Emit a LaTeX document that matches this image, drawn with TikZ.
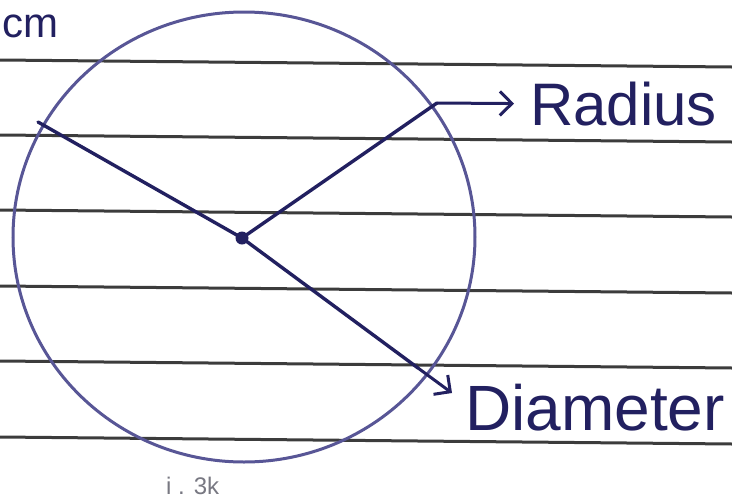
\documentclass[tikz,border=0pt]{standalone}
\usepackage{fontspec}
\setmainfont{Liberation Sans}
\usetikzlibrary{arrows.meta,positioning}
\definecolor{ink}{RGB}{34,32,96}
\definecolor{pen}{RGB}{88,86,150}
\definecolor{paperline}{RGB}{60,60,60}
\definecolor{smudge}{RGB}{120,120,130}

\begin{document}
\begin{tikzpicture}[x=1pt, y=-1pt,
  ruleline/.style={paperline, line width=3pt},
  penline/.style={pen, line width=3pt},
  inkline/.style={ink, line width=3.4pt, line cap=round},
  arrow/.style={-{Straight Barb[length=12pt, width=24pt]}, ink, line width=3pt},
  label/.style={ink, inner sep=0pt, anchor=base west}
]
\useasboundingbox[fill=white] (0,0) rectangle (732,499);
% ruled paper
\foreach \y in {60,135,210,286,361,437}
  \draw[ruleline] (0,\y) -- (732,\y+7);
% the circle
\draw[penline] (244,237) ellipse [x radius=231pt, y radius=225pt];
\node[circle, fill=ink, inner sep=0pt, minimum size=13pt] (ctr) at (242,238) {};
\coordinate (dleft) at (38,122);
\coordinate (dright) at (418,368);
\coordinate (rend) at (437,103);
\draw[inkline] (dleft) -- (ctr.center) -- (dright);
\draw[inkline] (ctr.center) -- (rend);
% labels
\node[label, font=\fontsize{42}{48}\selectfont] (unit) at (2,37) {cm};
\node[label, font=\fontsize{60}{66}\selectfont] (radius) at (530,125) {Radius};
\node[label, font=\fontsize{64}{70}\selectfont] (diameter) at (465,430) {Diameter};
\node[label, smudge, font=\fontsize{24}{28}\selectfont] (scrawl) at (166,494) {i . 3k};
\coordinate (dtip) at (452,393);
\draw[arrow] (rend) -- ([xshift=-16pt]radius.west);
\draw[arrow] (dright) -- (dtip);
\end{tikzpicture}
\end{document}
